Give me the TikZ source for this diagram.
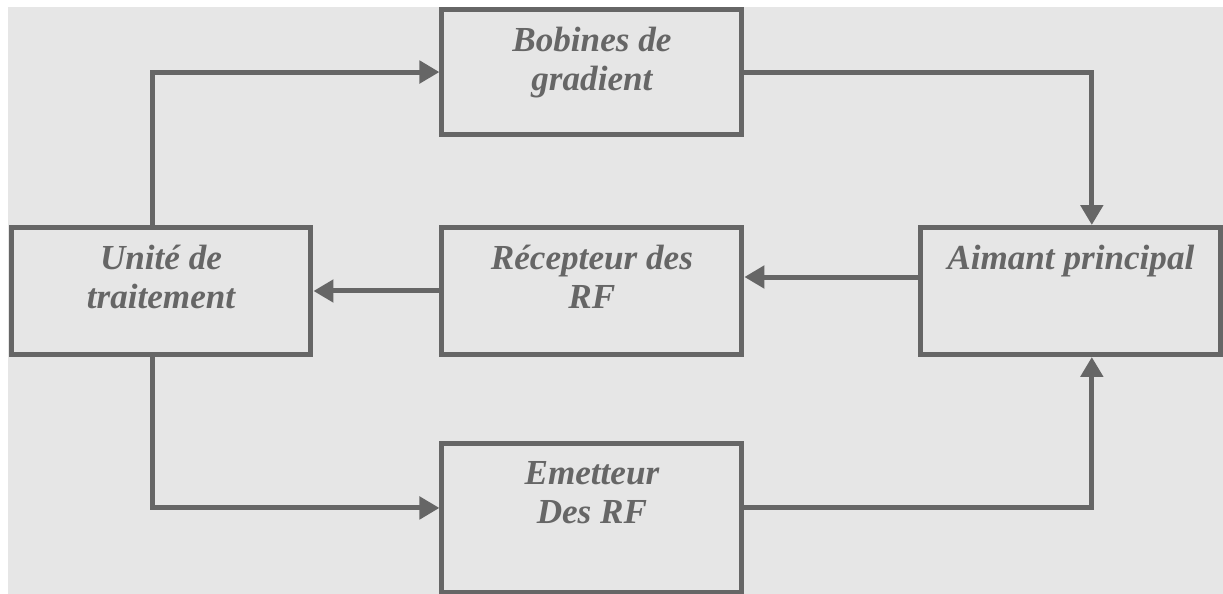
\documentclass[tikz,border=0pt]{standalone}
\usepackage{fontspec}
\setmainfont{Liberation Serif}
\usetikzlibrary{positioning,arrows.meta}
\definecolor{linegray}{HTML}{666666}
\definecolor{bggray}{HTML}{E6E6E6}

\begin{document}
\begin{tikzpicture}[x=0.02cm,y=-0.02cm]
    \useasboundingbox (0,0) rectangle (1223,594);
    \fill[bggray] (8,7) rectangle (1223,594);

    \begin{scope}[on grid,>={Triangle[length=0.4cm,width=0.44cm]},
    		block/.style={rectangle,draw=linegray,line width=0.1cm,minimum width=6cm,minimum height=2.54cm,inner sep=0pt},
    		txt/.style={anchor=north,inner sep=0pt,align=center,text=linegray,
    			font=\fontsize{20}{22}\selectfont\bfseries\itshape},
    		arrow/.style={linegray,line width=0.1cm,->}]

    \node[block] (unite) at (161,291) {};
    \node[block] (recepteur) [right=8.62cm of unite] {};
    \node[block] (aimant) [right=9.58cm of recepteur] {};
    \node[block] (bobines) [above=4.38cm of recepteur, minimum height=2.5cm] {};
    \node[block] (emetteur) [below=4.54cm of recepteur, minimum height=2.97cm] {};

    \node[txt] (unite-txt) at ([yshift=-0.4cm]unite.north) {Unité de\\traitement};
    \node[txt] (recepteur-txt) at ([yshift=-0.4cm]recepteur.north) {Récepteur des\\RF};
    \node[txt] (aimant-txt) at ([yshift=-0.4cm]aimant.north) {Aimant principal};
    \node[txt] (bobines-txt) at ([yshift=-0.4cm]bobines.north) {Bobines de\\gradient};
    \node[txt] (emetteur-txt) at ([yshift=-0.4cm]emetteur.north) {Emetteur\\Des RF};

    \draw[arrow] ([xshift=-0.18cm]unite.north) |- (bobines.west);
    \draw[arrow] (bobines.east) -| ([xshift=0.42cm]aimant.north);
    \draw[arrow] ([yshift=0.28cm]aimant.west) -- ([yshift=0.28cm]recepteur.east);
    \draw[arrow] (recepteur.west) -- (unite.east);
    \draw[arrow] ([xshift=-0.18cm]unite.south) |- ([yshift=0.2cm]emetteur.west);
    \draw[arrow] ([yshift=0.2cm]emetteur.east) -| ([xshift=0.42cm]aimant.south);

    \end{scope}
\end{tikzpicture}
\end{document}
